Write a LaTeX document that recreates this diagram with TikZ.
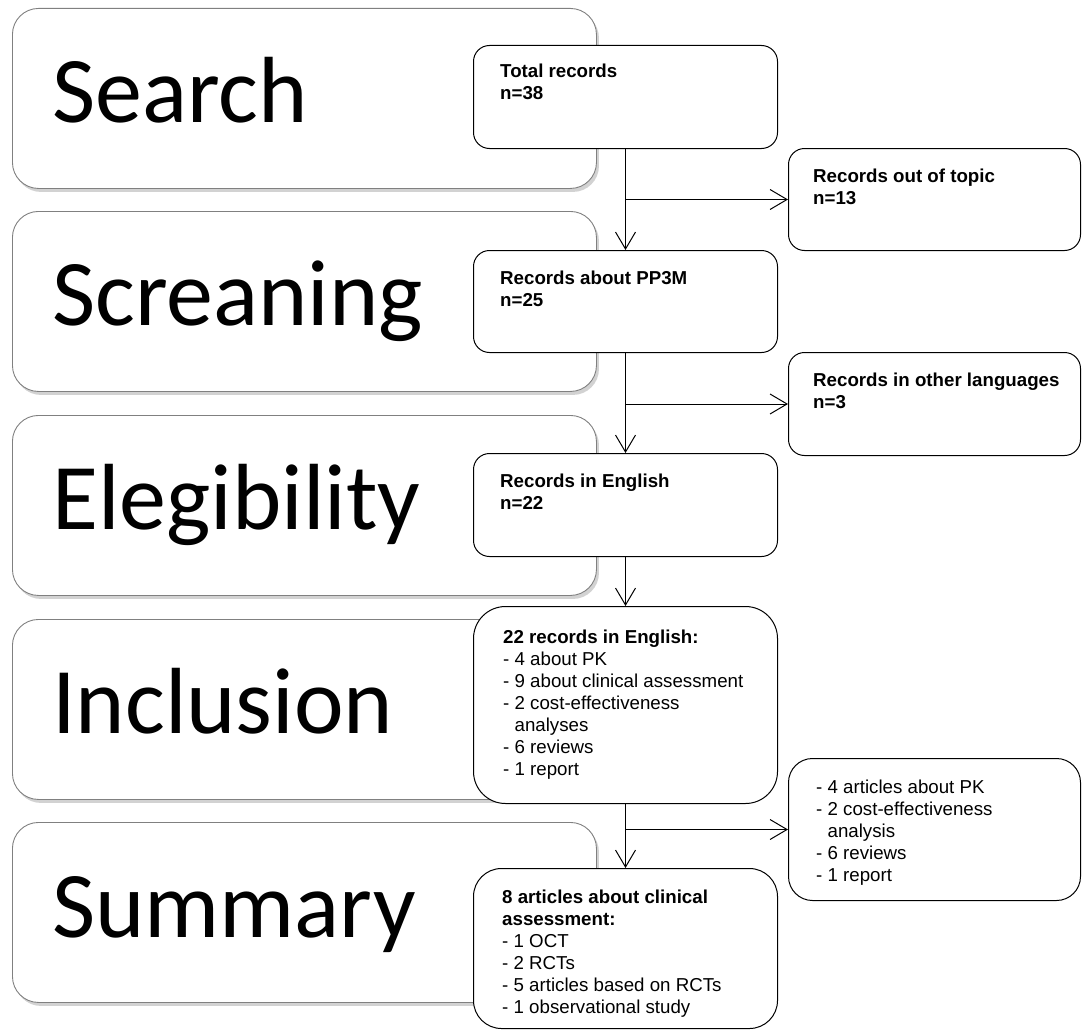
\documentclass[tikz,border=0pt]{standalone}
\usepackage{fontspec}
\setmainfont{Liberation Sans}
\newfontfamily\stagefont{Carlito}
\usetikzlibrary{arrows.meta,shadows,calc}
\begin{document}
\begin{tikzpicture}[x=1pt,y=-1pt,
  stagebox/.style={draw=black!50, line width=0.9pt, fill=white, rounded corners=26pt,
    minimum width=584pt, minimum height=180pt, anchor=north west, inner sep=0pt,
    drop shadow={shadow xshift=2.5pt, shadow yshift=-3.5pt, opacity=0.35}},
  stagetext/.style={font=\stagefont\fontsize{94}{100}\selectfont, inner sep=0pt, anchor=base west},
  rbox/.style={draw=black, line width=1pt, fill=white, anchor=north west, inner sep=0pt},
  lbox/.style={rbox, minimum width=304pt},
  xbox/.style={rbox, minimum width=292pt},
  rtext/.style={font=\fontsize{18.7}{22}\selectfont, align=left, inner sep=0pt, anchor=base west},
  conn/.style={line width=1pt, -{Straight Barb[length=17pt,width=20pt,line width=1pt]}}
]
\useasboundingbox (0,0) rectangle (1083,1030);
\fill[white] (0,0) rectangle (1083,1030);

% stage boxes
\node[stagebox] (s1) at (12,8) {};
\node[stagebox] (s2) at (12,211) {};
\node[stagebox] (s3) at (12,415) {};
\node[stagebox] (s4) at (12,619) {};
\node[stagebox] (s5) at (12,822) {};
\node[stagetext] (t1) at (52,122) {Search};
\node[stagetext] (t2) at (52,325) {Screaning};
\node[stagetext] (t3) at (52,529) {Elegibility};
\node[stagetext] (t4) at (52,733) {Inclusion};
\node[stagetext] (t5) at (52,937) {Summary};

% flow boxes (text anchored at the baseline of its last line)
\node[lbox, rounded corners=16pt, minimum height=103pt] (b1) at (473,45) {};
\node[rtext] (tb1) at (500,100) {\textbf{Total records}\\\textbf{n=38}};

\node[xbox, rounded corners=16pt, minimum height=102pt] (x1) at (788,148) {};
\node[rtext] (tx1) at (813,204) {\textbf{Records out of topic}\\\textbf{n=13}};

\node[lbox, rounded corners=16pt, minimum height=102pt] (b2) at (473,250) {};
\node[rtext] (tb2) at (500,306) {\textbf{Records about PP3M}\\\textbf{n=25}};

\node[xbox, rounded corners=16pt, minimum height=103pt] (x2) at (788,352) {};
\node[rtext] (tx2) at (813,408) {\textbf{Records in other languages}\\\textbf{n=3}};

\node[lbox, rounded corners=16pt, minimum height=103pt] (b3) at (473,453) {};
\node[rtext] (tb3) at (500,509) {\textbf{Records in English}\\\textbf{n=22}};

\node[lbox, rounded corners=32pt, minimum height=197pt] (b4) at (473,606) {};
\node[rtext] (tb4) at (503,775) {\textbf{22 records in English:}\\- 4 about PK\\- 9 about clinical assessment\\- 2 cost-effectiveness\\\hspace*{11.4pt}analyses\\- 6 reviews\\- 1 report};

\node[xbox, rounded corners=24pt, minimum height=142pt] (x3) at (788,758) {};
\node[rtext] (tx3) at (816,881) {- 4 articles about PK\\- 2 cost-effectiveness\\\hspace*{11.4pt}analysis\\- 6 reviews\\- 1 report};

\node[lbox, rounded corners=28pt, minimum height=160pt] (b5) at (473,868) {};
\node[rtext] (tb5) at (502,1013) {\textbf{8 articles about clinical}\\\textbf{assessment:}\\- 1 OCT\\- 2 RCTs\\- 5 articles based on RCTs\\- 1 observational study};

% connectors
\coordinate (j1) at (b1.south |- x1.west);
\coordinate (j2) at (b2.south |- x2.west);
\coordinate (j3) at (b4.south |- x3.west);
\draw[conn] (b1.south) -- (b2.north);
\draw[conn] (j1) -- (x1.west);
\draw[conn] (b2.south) -- (b3.north);
\draw[conn] (j2) -- (x2.west);
\draw[conn] (b3.south) -- (b4.north);
\draw[conn] (b4.south) -- (b5.north);
\draw[conn] (j3) -- (x3.west);
\end{tikzpicture}
\end{document}
